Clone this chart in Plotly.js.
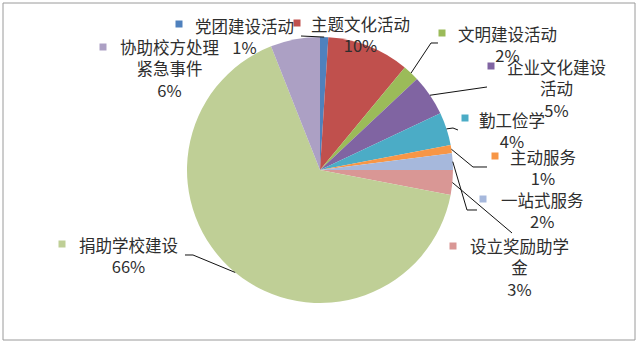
<!DOCTYPE html>
<html><head><meta charset="utf-8">
<script src="https://cdn.plot.ly/plotly-3.0.1.min.js"></script>
<style>html,body{margin:0;padding:0;background:#fff}#chart{width:640px;height:343px}</style>
</head><body><div id="chart"></div>
<script>
// ---- data ----
const categories = ['党团建设活动','主题文化活动','文明建设活动','企业文化建设活动','勤工俭学','主动服务','一站式服务','设立奖励助学金','捐助学校建设','协助校方处理紧急事件'];
const labelNames = ['党团建设活动','主题文化活动','文明建设活动','企业文化建设<br>活动','勤工俭学','主动服务','一站式服务','设立奖励助学<br>金','捐助学校建设','协助校方处理<br>紧急事件'];
const values = [1,10,2,5,4,1,2,3,66,6];
const pctLabels = ['1%','10%','2%','5%','4%','1%','2%','3%','66%','6%'];

// ---- styles / layout geometry (pixels) ----
const colors = ['#4F81BD','#C0504D','#9BBB59','#8064A2','#4BACC6','#F79646','#A6B8DC','#D99795','#BFCF96','#ACA0C4'];
const W = 640, H = 343, CX = 320, CY = 170, R = 133;
const px = x => x / W, py = y => 1 - y / H;
// label block centre, key square centre, leader points (label side)
const labelPos = [
  {bx:244, by:36,  kx:179, ky:24,  lead:[[301,36]]},
  {bx:360, by:34,  kx:297, ky:23,  lead:null},
  {bx:507, by:44,  kx:442, ky:33,  lead:[[438,43],[431,43]]},
  {bx:556, by:88,  kx:491, ky:66,  lead:[[487,87]]},
  {bx:512, by:130, kx:465, ky:118, lead:[[458,130],[453,128]]},
  {bx:543, by:167, kx:495, ky:156, lead:[[487,167],[473,167]]},
  {bx:542, by:210, kx:483, ky:199, lead:[[477,210],[467,210]]},
  {bx:519, by:267, kx:453, ky:246, lead:[[512,233]]},
  {bx:128, by:255, kx:62,  ky:244, lead:[[185,255],[193,255]]},
  {bx:169, by:68,  kx:103, ky:47,  lead:null}
];

const total = values.reduce((a,b)=>a+b,0);
const shapes = [{type:'rect', xref:'paper', yref:'paper', x0:px(3), x1:px(635), y0:py(3), y1:py(340),
  line:{color:'#9a9a9a', width:1}, fillcolor:'rgba(0,0,0,0)', layer:'below'}];
const annotations = [];
let cum = 0;
values.forEach((v,i)=>{
  const mid = (cum + v/2) / total * 2 * Math.PI;
  cum += v;
  const tx = CX + R*Math.sin(mid), ty = CY - R*Math.cos(mid);
  const L = labelPos[i];
  if (L.lead) {
    const pts = L.lead.concat([[tx,ty]]);
    const path = pts.map((p,j)=>(j?'L':'M')+px(p[0]).toFixed(5)+','+py(p[1]).toFixed(5)).join(' ');
    shapes.push({type:'path', xref:'paper', yref:'paper', path:path, line:{color:'#111', width:1}});
  }
  shapes.push({type:'rect', xref:'paper', yref:'paper', x0:px(L.kx-3.5), x1:px(L.kx+3.5), y0:py(L.ky-3.5), y1:py(L.ky+3.5),
    line:{width:0}, fillcolor:colors[i]});
  annotations.push({xref:'paper', yref:'paper', x:px(L.bx), y:py(L.by), xanchor:'center', yanchor:'middle',
    text: labelNames[i] + '<br>' + pctLabels[i], showarrow:false, align:'center',
    font:{family:'"Noto Sans CJK SC", "Noto Sans", sans-serif', size:16.5, color:'#2e2e2e'}});
});

const trace = {type:'pie', labels:categories, values:values, sort:false, direction:'clockwise', rotation:0,
  marker:{colors:colors, line:{width:0}}, textinfo:'none', hoverinfo:'label+percent',
  domain:{x:[px(CX-R), px(CX+R)], y:[py(CY+R), py(CY-R)]}};

Plotly.newPlot('chart', [trace], {
  width:W, height:H, margin:{l:0,r:0,t:0,b:0}, showlegend:false,
  paper_bgcolor:'#fff', shapes:shapes, annotations:annotations
}, {staticPlot:true});
</script></body></html>
